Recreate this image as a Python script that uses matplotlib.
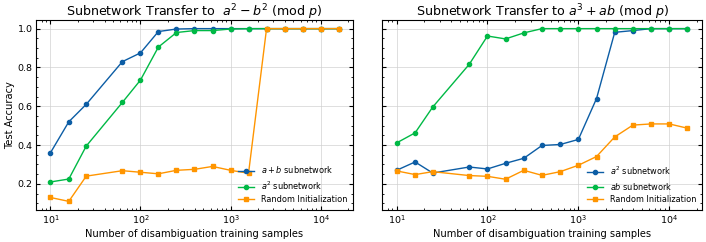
import numpy as np
import matplotlib
matplotlib.use("Agg")
import matplotlib.pyplot as plt

# training sample counts (log spaced, 10^1.6 missing)
samples = [10, 16, 25, 63, 100, 158, 251, 398, 631, 1000, 1585, 2512, 3981, 6310, 10000, 15849]

# left panel: a^2 - b^2
left_apb = [0.36, 0.52, 0.61, 0.83, 0.875, 0.985, 0.998, 1.0, 1.0, 1.0, 1.0, 1.0, 1.0, 1.0, 1.0, 1.0]
left_a2 = [0.21, 0.225, 0.395, 0.62, 0.735, 0.905, 0.98, 0.99, 0.99, 0.998, 1.0, 1.0, 1.0, 1.0, 1.0, 1.0]
left_rand = [0.13, 0.11, 0.24, 0.268, 0.26, 0.252, 0.27, 0.275, 0.29, 0.27, 0.255, 1.0, 1.0, 1.0, 1.0, 1.0]

# right panel: a^3 + ab
right_a2 = [0.27, 0.313, 0.256, 0.287, 0.277, 0.306, 0.332, 0.398, 0.403, 0.429, 0.64, 0.981, 0.99, 1.0, 1.0, 1.0]
right_ab = [0.411, 0.463, 0.596, 0.816, 0.962, 0.947, 0.978, 1.0, 1.0, 1.0, 1.0, 1.0, 1.0, 1.0, 1.0, 1.0]
right_rand = [0.267, 0.248, 0.263, 0.243, 0.239, 0.224, 0.27, 0.244, 0.263, 0.296, 0.341, 0.442, 0.503, 0.509, 0.509, 0.487]

BLUE = '#0C5DA5'
GREEN = '#00B945'
ORANGE = '#FF9500'

plt.rcParams['font.size'] = 7
plt.rcParams['mathtext.fontset'] = 'dejavusans'

fig = plt.figure(figsize=(7.06, 2.42), dpi=100)
ax1 = fig.add_axes([36 / 706, 32 / 242, 317 / 706, 190 / 242])
ax2 = fig.add_axes([382 / 706, 32 / 242, 320 / 706, 190 / 242], sharey=ax1)

def style(ax):
    ax.set_xscale('log')
    ax.grid(True, color='#d0d0d0', linewidth=0.6, alpha=0.8)
    ax.tick_params(which='both', direction='in', top=True, right=True, labelsize=6.8, pad=2.5)
    ax.tick_params(which='major', length=3)
    ax.tick_params(which='minor', length=1.5)
    ax.yaxis.set_minor_locator(matplotlib.ticker.MultipleLocator(0.05))
    ax.set_xlabel('Number of disambiguation training samples', fontsize=7.1, labelpad=2)

def legend(ax):
    ax.legend(loc='lower right', frameon=False, fontsize=5.9, handlelength=2.0,
              borderaxespad=0.3, labelspacing=0.45)

ax1.plot(samples, left_apb, '-o', color=BLUE, ms=3, lw=1, label='$a + b$ subnetwork')
ax1.plot(samples, left_a2, '-o', color=GREEN, ms=3, lw=1, label='$a^2$ subnetwork')
ax1.plot(samples, left_rand, '-s', color=ORANGE, ms=3.5, lw=1, label='Random Initialization')
style(ax1)
ax1.set_ylabel('Test Accuracy', fontsize=7.1, labelpad=2)
ax1.set_title('Subnetwork Transfer to  $a^2 - b^2$ (mod $p$)', fontsize=9.1, y=1.0, pad=3)
legend(ax1)

ax2.plot(samples, right_a2, '-o', color=BLUE, ms=3, lw=1, label='$a^2$ subnetwork')
ax2.plot(samples, right_ab, '-o', color=GREEN, ms=3, lw=1, label='$ab$ subnetwork')
ax2.plot(samples, right_rand, '-s', color=ORANGE, ms=3.5, lw=1, label='Random Initialization')
style(ax2)
ax2.tick_params(labelleft=False)
ax2.set_title('Subnetwork Transfer to $a^3 + ab$ (mod $p$)', fontsize=9.1, y=1.0, pad=3)
legend(ax2)

plt.savefig('out.png', dpi=100)
